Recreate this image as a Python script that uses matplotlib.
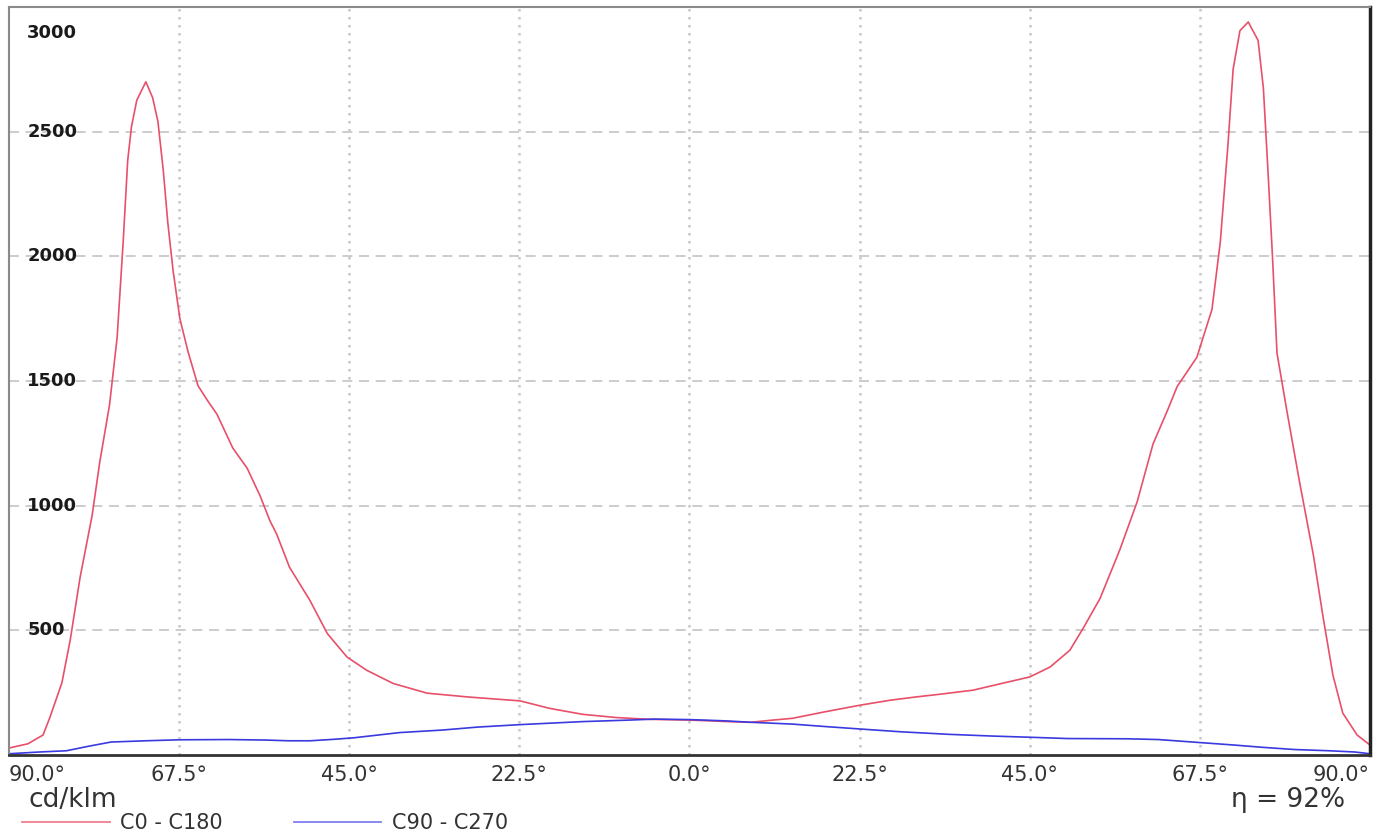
import matplotlib
matplotlib.use("Agg")
import matplotlib.pyplot as plt

# C0 - C180 curve (angle in degrees, cd/klm)
c0_angles = [-90.0, -87.5, -85.5, -84.6, -83.0, -81.9, -80.6, -79.0, -78.0, -76.7,
             -75.7, -74.9, -74.3, -73.8, -73.1, -71.9, -71.0, -70.3, -69.6, -69.0,
             -68.3, -67.4, -66.3, -65.0, -63.8, -62.5, -60.4, -58.5, -56.8, -55.5,
             -54.6, -52.9, -50.2, -47.9, -45.3, -42.7, -39.2, -34.7, -29.4, -22.4,
             -18.5, -14.1, -9.6, -5.2, 0.0, 2.7, 5.0, 8.0, 11.0, 13.6,
             17.7, 22.6, 26.6, 30.0, 33.2, 37.5, 42.0, 45.0, 47.7, 50.3,
             52.1, 54.3, 56.9, 59.2, 61.3, 63.2, 64.5, 67.1, 69.1, 70.2,
             71.2, 71.9, 72.8, 73.9, 75.2, 75.9, 76.5, 77.1, 77.7, 79.0,
             80.7, 82.5, 83.8, 85.1, 86.4, 88.3, 90.0]
c0_values = [28, 45, 80, 150, 290, 462, 712, 962, 1174, 1405,
             1674, 2058, 2385, 2520, 2626, 2700, 2636, 2540, 2346, 2136,
             1943, 1750, 1615, 1481, 1424, 1367, 1231, 1150, 1040, 940,
             886, 753, 620, 487, 393, 340, 287, 248, 233, 217,
             187, 163, 150, 143, 140, 137, 134, 131, 140, 147,
             172, 200, 220, 233, 244, 260, 292, 313, 353, 420,
             510, 628, 822, 1015, 1247, 1381, 1478, 1595, 1787, 2057,
             2442, 2751, 2905, 2940, 2866, 2674, 2346, 2000, 1612, 1381,
             1092, 804, 552, 320, 168, 80, 40]

# C90 - C270 curve
c90_angles = [-90.0, -86.0, -82.4, -79.5, -76.5, -72.0, -67.4, -61.0, -56.1, -53.0,
              -50.2, -47.0, -44.4, -38.3, -32.7, -28.0, -22.3, -14.1, -8.0, -4.6,
              0.0, 4.7, 8.3, 13.6, 18.0, 22.7, 28.0, 34.2, 40.0, 45.2,
              50.0, 57.9, 62.0, 67.9, 72.0, 75.7, 80.0, 84.6, 88.0, 90.0]
c90_values = [5, 12, 17, 35, 52, 57, 61, 62, 60, 57,
              57, 63, 69, 90, 100, 112, 122, 134, 140, 144,
              142, 137, 131, 124, 114, 104, 93, 83, 76, 71,
              66, 65, 62, 49, 40, 31, 22, 17, 12, 5]

x_ticks = [-90, -67.5, -45, -22.5, 0, 22.5, 45, 67.5, 90]
x_labels = ["90.0°", "67.5°", "45.0°", "22.5°", "0.0°", "22.5°", "45.0°", "67.5°", "90.0°"]
y_ticks = [500, 1000, 1500, 2000, 2500, 3000]

RED = "#e8506a"
BLUE = "#3a3ae0"

plt.rcParams["font.family"] = ["DejaVu Sans"]

fig = plt.figure(figsize=(13.78, 8.38), dpi=100)
ax = fig.add_axes([9 / 1378, 83 / 838, 1361 / 1378, 748 / 838])

ax.plot(c0_angles, c0_values, color=RED, lw=1.2)
ax.plot(c90_angles, c90_values, color=BLUE, lw=1.2)

ax.set_xlim(-90, 90)
ax.set_ylim(0, 3000)

# grid: dashed horizontal, dotted vertical
for y in y_ticks[:-1]:
    ax.axhline(y, color="#c4c4c4", lw=1.2, ls=(0, (6, 4)), zorder=0)
for x in x_ticks[1:-1]:
    ax.axvline(x, color="#c8c8c8", lw=1.8, ls=(0, (1, 2.2)), zorder=0)

ax.set_xticks(x_ticks)
ax.set_xticklabels(x_labels, fontsize=15, color="#333333")
ax.tick_params(axis="x", length=0, pad=7)
ax.get_xticklabels()[0].set_ha("left")
ax.get_xticklabels()[-1].set_ha("right")
ax.set_yticks([])

# y labels drawn inside the plot area
for y in y_ticks:
    va = "top" if y == 3000 else "center"
    yy = y - 70 if y == 3000 else y
    ax.text(-87.6, yy, str(y), fontsize=13, fontweight="bold",
            color="#1a1a1a", ha="left", va=va)

for side in ["left", "top"]:
    ax.spines[side].set_color("#8a8a8a")
    ax.spines[side].set_linewidth(1.5)
ax.spines["right"].set_color("#222222")
ax.spines["right"].set_linewidth(2.5)
ax.spines["bottom"].set_color("#333333")
ax.spines["bottom"].set_linewidth(2)

fig.text(28 / 1378, 1 - 800 / 838, "cd/klm", fontsize=19, color="#333333",
         ha="left", va="center")
fig.text(1345 / 1378, 1 - 800 / 838, "η = 92%", fontsize=19, color="#333333",
         ha="right", va="center")

# legend with lighter sample lines, as in the source
h1, = ax.plot([], [], color="#f07f90", lw=1.3)
h2, = ax.plot([], [], color="#7f7ff0", lw=1.3)
fig.legend([h1, h2], ["C0 - C180", "C90 - C270"], loc="lower left",
           bbox_to_anchor=(12 / 1378, -0.007), ncol=2,
           frameon=False, fontsize=15, handlelength=4.2, columnspacing=3.4,
           handletextpad=0.5, borderaxespad=0.1, labelcolor="#333333")

fig.savefig("out.png", dpi=100)
